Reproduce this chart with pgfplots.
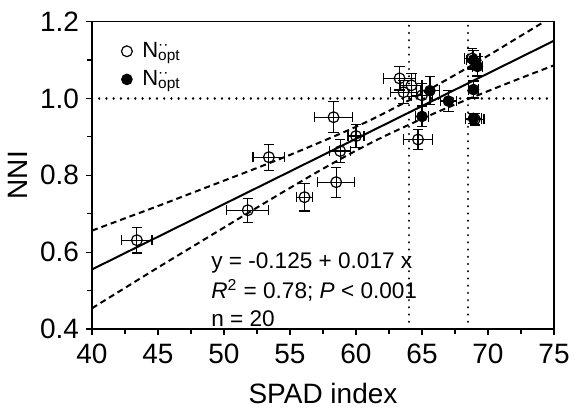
\documentclass[border=0pt]{standalone}
\usepackage{fontspec}
\setmainfont{Liberation Sans}
\usepackage{pgfplots}
\pgfplotsset{compat=1.18}

\begin{document}
\begin{tikzpicture}
\begin{axis}[
  scale only axis, width=231pt, height=153.75pt,
  xmin=40, xmax=75, ymin=0.4, ymax=1.2,
  xtick={40,45,50,55,60,65,70,75},
  ytick={0.4,0.6,0.8,1.0,1.2},
  minor x tick num=1, minor y tick num=1,
  tick align=outside, tick pos=left,
  major tick length=3pt, minor tick length=2.5pt,
  tick style={black, line width=0.6pt},
  axis line style={line width=0.7pt},
  /pgf/number format/assume math mode=true,
  tick label style={font=\fontsize{14}{16}\selectfont},
  yticklabel style={/pgf/number format/fixed, /pgf/number format/fixed zerofill, /pgf/number format/precision=1},
  xticklabel style={yshift=-1pt},
  xlabel={SPAD index}, ylabel={NNI},
  label style={font=\fontsize{14}{16}\selectfont},
  xlabel style={at={(axis description cs:0.5,-0.210)}, anchor=center},
  ylabel style={at={(axis description cs:-0.160,0.5)}, anchor=center},
  legend style={at={(axis description cs:0.05,0.96)}, anchor=north west,
    draw=none, fill=none, font=\fontsize{11}{13}\selectfont, row sep=1pt},
  legend cell align=left,
]
% reference lines
\addplot[forget plot, black, line width=1.2pt, dash pattern=on 0.01pt off 3.6pt, line cap=round]
  coordinates {(40,1.0) (75,1.0)};
\addplot[forget plot, black, line width=1.2pt, dash pattern=on 0.01pt off 3.6pt, line cap=round]
  coordinates {(64,0.4) (64,1.2)};
\addplot[forget plot, black, line width=1.2pt, dash pattern=on 0.01pt off 3.6pt, line cap=round]
  coordinates {(68.5,0.4) (68.5,1.2)};

% regression line and confidence bands
\addplot[forget plot, black, line width=1pt] coordinates {(40,0.555) (75,1.150)};
\addplot[forget plot, black, line width=1pt, dash pattern=on 3pt off 2pt, smooth] coordinates {
  (40,0.656) (42.5,0.688) (45,0.720) (47.5,0.753) (50,0.786) (52.5,0.819) (55,0.853)
  (57.5,0.889) (60,0.926) (62,0.959) (65,1.013) (67.5,1.061) (70,1.111) (72.5,1.163) (75,1.215)};
\addplot[forget plot, black, line width=1pt, dash pattern=on 3pt off 2pt, smooth] coordinates {
  (40,0.454) (42.5,0.507) (45,0.560) (47.5,0.612) (50,0.664) (52.5,0.716) (55,0.767)
  (57.5,0.817) (60,0.864) (62,0.899) (65,0.947) (67.5,0.984) (70,1.019) (72.5,1.053) (75,1.086)};

% open symbols
\addplot[only marks, black, mark=o, mark size=2.7pt, mark options={line width=0.6pt},
  error bars/.cd, x dir=both, x explicit, y dir=both, y explicit,
  error bar style={line width=0.6pt, black},
  error mark=-,
  error mark options={rotate=90, line width=0.6pt, mark size=2.6pt, black}]
  table[x=x, y=y, x error=ex, y error=ey] {
x     y      ex    ey
43.4  0.631  1.14  0.033
51.8  0.709  1.60  0.031
53.4  0.847  1.20  0.034
58.3  0.951  1.45  0.040
56.1  0.743  0.60  0.036
58.5  0.782  1.40  0.039
58.8  0.863  0.80  0.030
60.0  0.902  0.60  0.030
63.3  1.052  1.20  0.030
63.6  1.016  1.00  0.030
64.2  1.034  0.80  0.030
65.0  1.008  0.80  0.030
64.7  0.893  1.10  0.027
68.8  1.104  0.60  0.025
69.0  0.946  0.70  0.015
};
\addlegendentry{\hspace{3pt}N\rlap{\textsuperscript{··}}\textsubscript{opt}}

% filled symbols
\addplot[only marks, black, mark=*, mark size=2.7pt, mark options={fill=black},
  error bars/.cd, x dir=both, x explicit, y dir=both, y explicit,
  error bar style={line width=0.6pt, black},
  error mark=-,
  error mark options={rotate=90, line width=0.6pt, mark size=2.6pt, black}]
  table[x=x, y=y, x error=ex, y error=ey] {
x     y      ex    ey
65.6  1.020  0.70  0.036
67.0  0.993  0.60  0.028
65.0  0.953  0.50  0.027
68.9  1.023  0.40  0.022
68.9  0.948  0.60  0.013
68.9  1.100  0.50  0.025
69.2  1.083  0.40  0.025
};
\addlegendentry{\hspace{3pt}N\rlap{\textsuperscript{··}}\textsubscript{opt}}

\node[anchor=base west, font=\fontsize{11.3}{13}\selectfont] at (axis cs:48.5,0.558) {y = -0.125 + 0.017 x};
\node[anchor=base west, font=\fontsize{11.3}{13}\selectfont] at (axis cs:48.5,0.480) {\textit{R}\textsuperscript{2} = 0.78; \textit{P} < 0.001};
\node[anchor=base west, font=\fontsize{11.3}{13}\selectfont] at (axis cs:48.5,0.406) {n = 20};
\end{axis}
\pgfresetboundingbox
\path ([xshift=-46pt,yshift=-39.5pt]current axis.south west) rectangle ([xshift=11pt,yshift=10.75pt]current axis.north east);
\end{tikzpicture}
\end{document}
